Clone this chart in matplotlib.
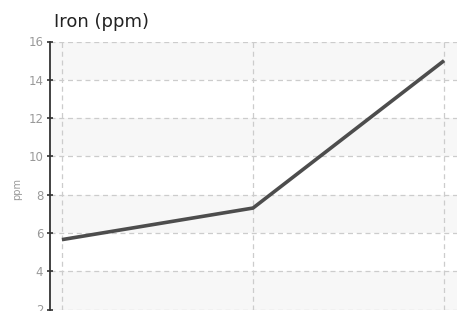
import matplotlib

matplotlib.use("Agg")

import matplotlib.pyplot as plt
import numpy as np

# Iron readings, three samples
samples = ["A", "B", "C"]
iron_ppm = [5.65, 7.3, 15.0]
y_ticks = [2, 4, 6, 8, 10, 12, 14, 16]

W, H = 457, 311
fig = plt.figure(figsize=(W / 100, H / 100), dpi=100)
ax = fig.add_axes([49.5 / W, 1 - 309.5 / H, (456.5 - 49.5) / W, (309.5 - 41.5) / H])

x = np.arange(len(samples))

# alternating background bands
for lo, hi in zip(y_ticks[:-1], y_ticks[1:]):
    if (lo // 2) % 2 == 1:
        ax.axhspan(lo, hi, color="#f7f7f7", lw=0, zorder=0)

ax.plot(x, iron_ppm, color="#4d4d4d", lw=2.6, solid_capstyle="butt",
        solid_joinstyle="miter", zorder=3)

ax.set_xlim(-0.065, len(samples) - 1 + 0.065)
ax.set_ylim(2, 16)
ax.set_yticks(y_ticks)
ax.set_xticks(x)
ax.set_xticklabels([])
ax.tick_params(axis="x", length=0)
ax.tick_params(axis="y", direction="inout", length=5, width=1.2, color="#333333",
               labelcolor="#999999", labelsize=8.5, pad=2)
ax.grid(True, color="#cccccc", ls=(0, (4, 3)), lw=0.9, zorder=1)

for s in ("top", "right", "bottom"):
    ax.spines[s].set_visible(False)
ax.spines["left"].set_color("#333333")
ax.spines["left"].set_linewidth(1.3)

ax.set_ylabel("ppm", color="#999999", fontsize=7)
ax.yaxis.set_label_coords((22 - 49.5) / 407, (309.5 - 189) / 268)
fig.text(54 / W, 1 - 27 / H, "Iron (ppm)", fontsize=13, color="#222222",
         ha="left", va="baseline")

fig.savefig("out.png", dpi=100)
